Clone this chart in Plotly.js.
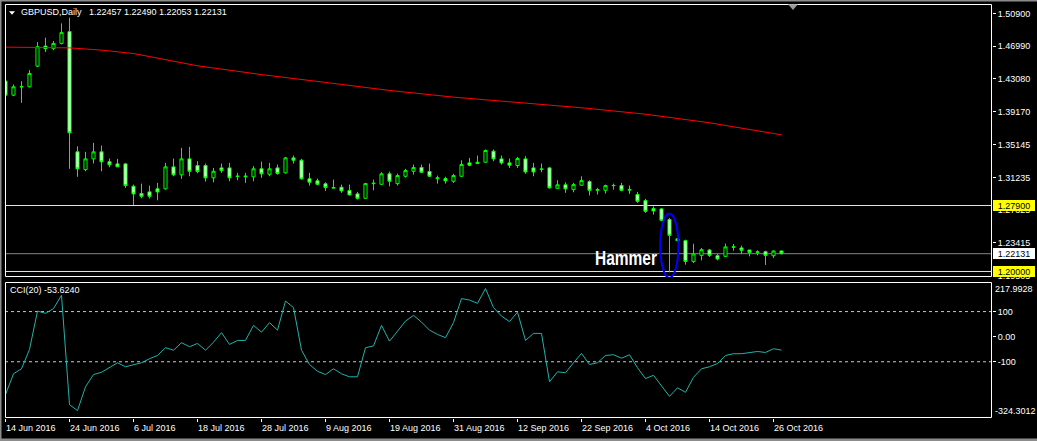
<!DOCTYPE html>
<html><head><meta charset="utf-8">
<script src="https://cdn.plot.ly/plotly-3.0.1.min.js"></script>
<style>html,body{margin:0;padding:0;background:#000;overflow:hidden}#chart{width:1037px;height:441px}</style>
</head><body><div id="chart"></div>
<script>
const dates = [
'2016-06-14','2016-06-15','2016-06-16','2016-06-17','2016-06-20','2016-06-21','2016-06-22','2016-06-23','2016-06-24','2016-06-27','2016-06-28','2016-06-29','2016-06-30',
'2016-07-01','2016-07-04','2016-07-05','2016-07-06','2016-07-07','2016-07-08','2016-07-11','2016-07-12','2016-07-13','2016-07-14','2016-07-15','2016-07-18','2016-07-19','2016-07-20','2016-07-21','2016-07-22','2016-07-25','2016-07-26','2016-07-27','2016-07-28','2016-07-29',
'2016-08-01','2016-08-02','2016-08-03','2016-08-04','2016-08-05','2016-08-08','2016-08-09','2016-08-10','2016-08-11','2016-08-12','2016-08-15','2016-08-16','2016-08-17','2016-08-18','2016-08-19','2016-08-22','2016-08-23','2016-08-24','2016-08-25','2016-08-26','2016-08-29','2016-08-30','2016-08-31',
'2016-09-01','2016-09-02','2016-09-05','2016-09-06','2016-09-07','2016-09-08','2016-09-09','2016-09-12','2016-09-13','2016-09-14','2016-09-15','2016-09-16','2016-09-19','2016-09-20','2016-09-21','2016-09-22','2016-09-23','2016-09-26','2016-09-27','2016-09-28','2016-09-29','2016-09-30',
'2016-10-03','2016-10-04','2016-10-05','2016-10-06','2016-10-07','2016-10-10','2016-10-11','2016-10-12','2016-10-13','2016-10-14','2016-10-17','2016-10-18','2016-10-19','2016-10-20','2016-10-21','2016-10-24','2016-10-25','2016-10-26','2016-10-27'];

const openP = [1.4279,1.4111,1.4209,1.4211,1.4458,1.4698,1.4667,1.4730,1.4871,1.3432,
1.3220,1.3348,1.3432,1.3313,1.3288,1.3288,1.3020,1.2933,1.2953,1.2989,
1.2989,1.3252,1.3157,1.3348,1.3268,1.3268,1.3121,1.3240,1.3240,1.3142,
1.3143,1.3133,1.3229,1.3164,1.3240,1.3181,1.3360,1.3332,1.3109,1.3085,
1.3049,1.3004,1.3008,1.2969,1.2929,1.2876,1.3052,1.3044,1.3169,1.3052,
1.3140,1.3200,1.3244,1.3196,1.3110,1.3112,1.3080,1.3140,1.3300,1.3292,
1.3308,1.3440,1.3348,1.3300,1.3268,1.3348,1.3240,1.3222,1.3240,1.2996,
1.3037,1.2980,1.3032,1.3076,1.2972,1.2972,1.3028,1.3028,1.2980,1.2921,
1.2849,1.2753,1.2749,1.2621,1.2392,1.2369,1.2121,1.2193,1.2257,1.2189,
1.2181,1.2290,1.2282,1.2257,1.2230,1.2237,1.2189,1.22457];

const highP = [1.4299,1.4239,1.4279,1.4410,1.4746,1.4799,1.4758,1.4970,1.5038,1.3499,
1.3432,1.3540,1.3508,1.3352,1.3348,1.3300,1.3040,1.3052,1.3028,1.3061,
1.3300,1.3352,1.3480,1.3492,1.3320,1.3292,1.3240,1.3292,1.3300,1.3181,
1.3181,1.3261,1.3316,1.3300,1.3280,1.3372,1.3388,1.3348,1.3181,1.3112,
1.3068,1.3100,1.3040,1.3040,1.2953,1.3061,1.3100,1.3188,1.3196,1.3172,
1.3229,1.3280,1.3280,1.3292,1.3148,1.3133,1.3169,1.3332,1.3360,1.3388,
1.3460,1.3460,1.3388,1.3352,1.3372,1.3380,1.3300,1.3292,1.3252,1.3092,
1.3068,1.3061,1.3140,1.3092,1.3001,1.3040,1.3052,1.3061,1.3028,1.2953,
1.2869,1.2780,1.2761,1.2641,1.2398,1.2381,1.2333,1.2282,1.2270,1.2210,
1.2333,1.2330,1.2309,1.2257,1.2253,1.2249,1.2253,1.22490];

const lowP = [1.4083,1.4099,1.4019,1.4205,1.4446,1.4626,1.4650,1.4718,1.3229,1.3133,
1.3200,1.3292,1.3200,1.3248,1.3250,1.3001,1.2795,1.2876,1.2873,1.2852,
1.2981,1.3140,1.3109,1.3140,1.3176,1.3076,1.3068,1.3181,1.3080,1.3092,
1.3061,1.3080,1.3121,1.3140,1.3160,1.3172,1.3292,1.3100,1.3028,1.3032,
1.2965,1.2996,1.2941,1.2909,1.2861,1.2876,1.2972,1.3037,1.3020,1.3028,
1.3124,1.3160,1.3181,1.3133,1.3052,1.3052,1.3061,1.3133,1.3260,1.3288,
1.3300,1.3320,1.3280,1.3240,1.3240,1.3169,1.3140,1.3188,1.2992,1.2996,
1.2941,1.2948,1.3032,1.2909,1.2921,1.2933,1.2980,1.2960,1.2929,1.2821,
1.2701,1.2681,1.2601,1.1990,1.2362,1.2082,1.2102,1.2133,1.2174,1.2133,
1.2174,1.2249,1.2210,1.2181,1.2193,1.2078,1.2162,1.22053];

const closeP = [1.4111,1.4211,1.4213,1.4371,1.4691,1.4667,1.4730,1.4859,1.3660,1.3229,
1.3348,1.3432,1.3313,1.3277,1.3253,1.3028,1.2929,1.2900,1.2900,1.2953,
1.3252,1.3157,1.3348,1.3200,1.3196,1.3121,1.3200,1.3208,1.3121,1.3138,
1.3135,1.3229,1.3169,1.3229,1.3172,1.3360,1.3332,1.3109,1.3068,1.3044,
1.3004,1.3000,1.2965,1.2917,1.2876,1.3052,1.3056,1.3169,1.3080,1.3148,
1.3208,1.3244,1.3188,1.3140,1.3120,1.3085,1.3148,1.3280,1.3272,1.3308,
1.3448,1.3348,1.3300,1.3272,1.3352,1.3192,1.3192,1.3226,1.3001,1.3037,
1.2989,1.3040,1.3088,1.2972,1.2980,1.3028,1.3030,1.2972,1.2976,1.2840,
1.2720,1.2725,1.2612,1.2433,1.2368,1.2121,1.2210,1.2261,1.2193,1.2150,
1.2294,1.2294,1.2253,1.2229,1.2234,1.2193,1.2245,1.22131];

const maDates = ['2016-06-14','2016-06-20','2016-06-24','2016-06-30','2016-07-06','2016-07-18','2016-07-28','2016-08-09','2016-08-19','2016-08-31','2016-09-12','2016-09-22','2016-10-04','2016-10-14','2016-10-26','2016-10-27'];
const maValues = [1.4686,1.4686,1.4677,1.4650,1.4609,1.4462,1.4357,1.4263,1.4167,1.4087,1.4023,1.3960,1.3883,1.3780,1.3652,1.3636];

const cci = [-231,-148,-128,-51,102,93,112,165,-271,-295,
-200,-151,-142,-124,-104,-120,-111,-104,-88,-75,
-44,-54,-24,-40,-27,-54,-22,16,-31,-15,
-15,45,18,56,26,142,116,-54,-111,-138,
-151,-128,-148,-160,-160,-44,-37,45,-18,22,
62,85,58,26,9,-4,56,152,146,133,
192,116,82,60,98,-15,13,13,-180,-140,
-144,-104,-67,-111,-104,-75,-72,-86,-72,-124,
-167,-154,-198,-238,-204,-222,-162,-128,-120,-107,
-75,-68,-68,-63,-59,-63,-48,-53.624];

const priceTicks = [1.50900,1.46990,1.43080,1.39170,1.35145,1.31235,1.27325,1.23415,1.19505];
const cciTicks = [100, 0, -100];
const cciTickText = ['100', '0.00', '-100'];
const cciRange = [-324.3012, 217.9928];
const levelLines = [1.27900, 1.20000];
const bidPrice = 1.22131;
const monthNames = ['Jan','Feb','Mar','Apr','May','Jun','Jul','Aug','Sep','Oct','Nov','Dec'];
const labelStep = 8;
const hammerDate = '2016-10-07';

const xs = dates.map((d, i) => i);
const n = dates.length;
function fmtDate(s) {
  const p = s.split('-');
  return parseInt(p[2], 10) + ' ' + monthNames[parseInt(p[1], 10) - 1] + ' ' + p[0];
}
const tickIdx = xs.filter(i => i % labelStep === 0);

const FONT = '"Liberation Sans", Arial, sans-serif';
const traces = [
  {type: 'scatter', mode: 'lines', x: maDates.map(d => dates.indexOf(d)), y: maValues,
   xaxis: 'x', yaxis: 'y', line: {color: '#FF0000', width: 1}, hoverinfo: 'skip'},
  {type: 'candlestick', x: xs, open: openP, high: highP, low: lowP, close: closeP,
   xaxis: 'x', yaxis: 'y', whiskerwidth: 0,
   increasing: {line: {color: '#00FF00', width: 1}, fillcolor: '#000000'},
   decreasing: {line: {color: '#00FF00', width: 1}, fillcolor: '#FFFFFF'},
   hoverinfo: 'skip'},
  {type: 'scatter', mode: 'lines', x: xs, y: cci, xaxis: 'x', yaxis: 'y2',
   line: {color: '#20B2AA', width: 1}, hoverinfo: 'skip'}
];

const shapes = [];
levelLines.forEach(v => shapes.push({type: 'line', xref: 'paper', yref: 'y', x0: 0, x1: 1, y0: v, y1: v,
  line: {color: '#FFFF00', width: 1}, layer: 'below'}));
shapes.push({type: 'line', xref: 'paper', yref: 'y', x0: 0, x1: 1, y0: bidPrice, y1: bidPrice,
  line: {color: '#778899', width: 1}, layer: 'below'});
[100, -100].forEach(v => shapes.push({type: 'line', xref: 'paper', yref: 'y2', x0: 0, x1: 1, y0: v, y1: v,
  line: {color: '#C8C8C8', width: 1, dash: '3px,3px'}, layer: 'below'}));
// panel frames (half-pixel offsets keep the 1px lines crisp)
const px = 1 / 987, py = 1 / 414;
shapes.push({type: 'rect', xref: 'paper', yref: 'paper', x0: 0.5 * px, x1: 1 - 0.5 * px, y0: 0.34179, y1: 1 - 0.5 * py,
  line: {color: '#FFFFFF', width: 1}, fillcolor: 'rgba(0,0,0,0)'});
shapes.push({type: 'rect', xref: 'paper', yref: 'paper', x0: 0.5 * px, x1: 1 - 0.5 * px, y0: 0.5 * py, y1: 0.32729,
  line: {color: '#FFFFFF', width: 1}, fillcolor: 'rgba(0,0,0,0)'});
// outer window border (top, left, bottom)
shapes.push({type: 'path', xref: 'paper', yref: 'paper',
  path: 'M1.04559,1.00966 L-0.00507,1.00966 L-0.00507,-0.05314 L1.04559,-0.05314',
  line: {color: '#8C8C8C', width: 3}, fillcolor: 'rgba(0,0,0,0)'});
// hammer ellipse
const hi = dates.indexOf(hammerDate);
shapes.push({type: 'circle', xref: 'x', yref: 'y', x0: hi - 1.16, x1: hi + 1.12, y0: 1.1925, y1: 1.2693,
  line: {color: '#0000FF', width: 2}, fillcolor: 'rgba(0,0,0,0)'});
// chart-shift marker and title triangle
shapes.push({type: 'path', xref: 'paper', yref: 'paper', path: 'M0.7933,0.9995 L0.8034,0.9995 L0.79835,0.9855 Z',
  fillcolor: '#9A9A9A', line: {width: 0}});
shapes.push({type: 'path', xref: 'paper', yref: 'paper', path: 'M0.00405,0.98237 L0.01013,0.98237 L0.00709,0.97415 Z',
  fillcolor: '#FFFFFF', line: {width: 0}});

const annotations = [];
const last = n - 1;
annotations.push({xref: 'paper', yref: 'paper', x: 0.0137, y: 0.9795, xanchor: 'left', yanchor: 'middle', showarrow: false,
  text: 'GBPUSD,Daily\u00a0\u00a0 ' + [openP[last], highP[last], lowP[last], closeP[last]].map(v => v.toFixed(5)).join(' '),
  font: {family: FONT, size: 9, color: '#FFFFFF'}});
annotations.push({xref: 'paper', yref: 'paper', x: 0.0030, y: 0.3080, xanchor: 'left', yanchor: 'middle', showarrow: false,
  text: 'CCI(20) ' + cci[last].toFixed(4), font: {family: FONT, size: 9, color: '#FFFFFF'}});
tickIdx.forEach(i => annotations.push({xref: 'x', yref: 'paper', x: i, xshift: -2, y: -0.0242, xanchor: 'left', yanchor: 'middle',
  showarrow: false, text: fmtDate(dates[i]), font: {family: FONT, size: 9, color: '#FFFFFF'}}));
annotations.push({xref: 'paper', yref: 'y2', x: 1.0012, y: cciRange[1], xanchor: 'left', yanchor: 'top', showarrow: false,
  text: cciRange[1].toFixed(4), font: {family: FONT, size: 9, color: '#FFFFFF'}});
annotations.push({xref: 'paper', yref: 'y2', x: 1.0012, y: cciRange[0], xanchor: 'left', yanchor: 'bottom', showarrow: false,
  text: cciRange[0].toFixed(4), font: {family: FONT, size: 9, color: '#FFFFFF'}});
// price tags
levelLines.forEach(v => annotations.push({xref: 'paper', yref: 'y', x: 1.001, y: v, xanchor: 'left', yanchor: 'middle', showarrow: false,
  text: v.toFixed(5), bgcolor: '#FFFF00', borderpad: 0, borderwidth: 0, width: 42, height: 11, align: 'center',
  font: {family: FONT, size: 9, color: '#000000'}}));
annotations.push({xref: 'paper', yref: 'y', x: 1.001, y: bidPrice, xanchor: 'left', yanchor: 'middle', showarrow: false,
  text: bidPrice.toFixed(5), bgcolor: '#FFFFFF', borderpad: 0, borderwidth: 0, width: 42, height: 11, align: 'center',
  font: {family: FONT, size: 9, color: '#000000'}});
annotations.push({xref: 'x', yref: 'y', x: hi - 5.41, y: 1.2160, xanchor: 'center', yanchor: 'middle', showarrow: false,
  text: '<b>Hammer</b>', font: {family: FONT, size: 20, color: '#FFFFFF'}});

const layout = {
  width: 1037, height: 441,
  margin: {l: 5, r: 45, t: 4, b: 23, pad: 0},
  paper_bgcolor: '#000000', plot_bgcolor: 'rgba(0,0,0,0)',
  showlegend: false, boxgap: 0.45, dragmode: false, hovermode: false,
  xaxis: {anchor: 'y2', range: [-0.0625, 123.3125], showgrid: false, zeroline: false, showline: false,
    tickmode: 'array', tickvals: tickIdx, ticks: 'outside', ticklen: 3, tickcolor: '#FFFFFF', tickwidth: 1,
    showticklabels: false, rangeslider: {visible: false}, fixedrange: true},
  yaxis: {domain: [0.3406, 1], anchor: 'x', side: 'right', range: [1.19342, 1.52020], showgrid: false, zeroline: false,
    tickmode: 'array', tickvals: priceTicks, ticktext: priceTicks.map(v => v.toFixed(5)),
    ticks: 'outside', ticklen: 3, tickcolor: '#FFFFFF', tickfont: {family: FONT, size: 9, color: '#FFFFFF'}, fixedrange: true},
  yaxis2: {domain: [0, 0.3285], anchor: 'x', side: 'right', range: cciRange, showgrid: false, zeroline: false,
    tickmode: 'array', tickvals: cciTicks, ticktext: cciTickText,
    ticks: 'outside', ticklen: 3, tickcolor: '#FFFFFF', tickfont: {family: FONT, size: 9, color: '#FFFFFF'}, fixedrange: true},
  shapes: shapes, annotations: annotations
};

function condenseHammer() {
  document.querySelectorAll('.annotation-text').forEach(t => {
    if (t.textContent === 'Hammer') {
      t.setAttribute('textLength', '62');
      t.setAttribute('lengthAdjust', 'spacingAndGlyphs');
      t.querySelectorAll('tspan').forEach(s => {
        s.setAttribute('textLength', '62');
        s.setAttribute('lengthAdjust', 'spacingAndGlyphs');
      });
    }
  });
}
Plotly.newPlot('chart', traces, layout, {displayModeBar: false, staticPlot: true}).then(condenseHammer);
</script>
</body></html>
